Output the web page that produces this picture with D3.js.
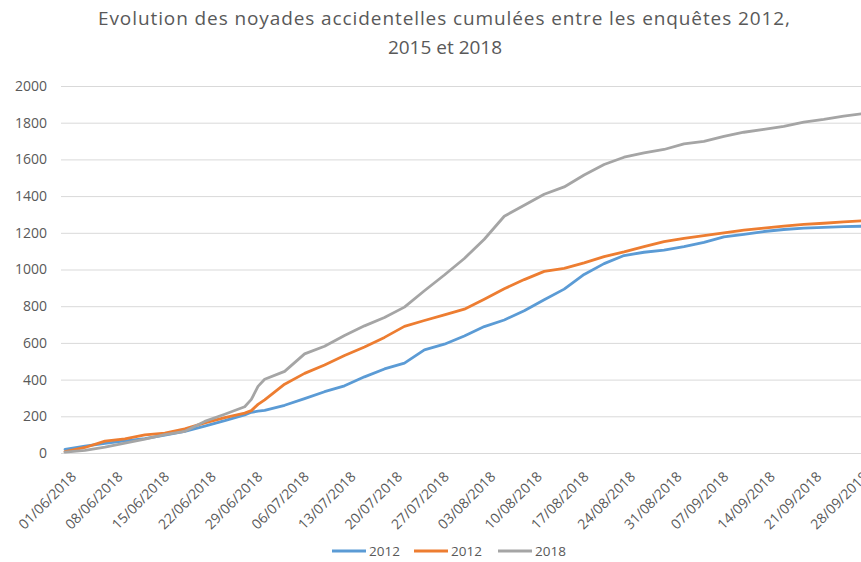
<!DOCTYPE html>
<html>
<head>
<meta charset="utf-8">
<script src="https://cdn.jsdelivr.net/npm/d3@7"></script>
<style>
  body { margin: 0; background: #fff; }
  text { font-family: "Open Sans", "Noto Sans", sans-serif; fill: #595959; }
  .grid line { stroke: #d9d9d9; stroke-width: 1; }
  .serie { fill: none; stroke-width: 2.8; stroke-linejoin: round; stroke-linecap: round; }
</style>
</head>
<body>
<div class="app"></div>
<script>
// Dates des points (tous les 3 jours environ)
var dates = ["01/06/2018","04/06/2018","07/06/2018","10/06/2018","13/06/2018","16/06/2018","19/06/2018",
  "22/06/2018","25/06/2018","28/06/2018","29/06/2018","30/06/2018","01/07/2018","04/07/2018","07/07/2018",
  "10/07/2018","13/07/2018","16/07/2018","19/07/2018","22/07/2018","25/07/2018","28/07/2018","31/07/2018",
  "03/08/2018","06/08/2018","09/08/2018","12/08/2018","15/08/2018","18/08/2018","21/08/2018","24/08/2018",
  "27/08/2018","30/08/2018","02/09/2018","05/09/2018","08/09/2018","11/09/2018","14/09/2018","17/09/2018",
  "20/09/2018","23/09/2018","26/09/2018","29/09/2018","30/09/2018"];

var blue2012 = [20,37,53,66,78,97,118,147,176,208,222,228,232,260,296,334,366,415,458,490,562,593,638,
  689,725,775,835,893,973,1032,1076,1094,1106,1125,1148,1178,1192,1207,1218,1226,1230,1234,1236,1237];

var orange2012 = [8,30,65,77,99,108,131,164,193,217,231,265,290,375,434,480,531,578,630,690,722,753,784,
  838,895,945,990,1006,1036,1070,1096,1125,1152,1170,1185,1200,1214,1225,1236,1246,1252,1259,1266,1268];

var gray2018 = [5,14,32,54,75,100,118,172,211,252,292,363,402,445,540,582,640,693,738,795,884,970,1060,
  1165,1290,1350,1410,1450,1515,1572,1612,1635,1654,1685,1698,1726,1748,1764,1780,1803,1818,1836,1850,1852];

var tickLabels = ["01/06/2018","08/06/2018","15/06/2018","22/06/2018","29/06/2018","06/07/2018",
  "13/07/2018","20/07/2018","27/07/2018","03/08/2018","10/08/2018","17/08/2018","24/08/2018",
  "31/08/2018","07/09/2018","14/09/2018","21/09/2018","28/09/2018"];

var yTicks = [0,200,400,600,800,1000,1200,1400,1600,1800,2000];

var series = [
  {name: "2012", values: blue2012, color: "#5B9BD5"},
  {name: "2012", values: orange2012, color: "#ED7D31"},
  {name: "2018", values: gray2018, color: "#A5A5A5"}
];

var width = 861, height = 562;
var parse = d3.timeParse("%d/%m/%Y");

var svg = d3.select(".app").append("svg")
    .attr("width", width)
    .attr("height", height);

var x = d3.scaleTime()
    .domain([parse("01/06/2018"), parse("28/09/2018")])
    .range([65, 857]);
var y = d3.scaleLinear().domain([0, 2000]).range([453, 86]);

// titre
var title = svg.append("text")
    .attr("text-anchor", "middle")
    .style("font-size", "19px");
title.append("tspan").attr("x", 444).attr("y", 25)
    .attr("textLength", 692)
    .attr("lengthAdjust", "spacing")
    .text("Evolution des noyades accidentelles cumulées entre les enquêtes 2012,");
title.append("tspan").attr("x", 445).attr("y", 54)
    .text("2015 et 2018");

// grille + axe Y
var yAxis = d3.axisLeft(y).tickValues(yTicks).tickSize(-(width - 61)).tickPadding(14)
    .tickFormat(d3.format("d"));
svg.append("g")
    .attr("class", "grid")
    .attr("transform", "translate(61,0)")
    .call(yAxis)
    .call(function(g){ g.select(".domain").remove(); })
    .selectAll("text")
    .style("font-size", "14px");

// axe X
var xAxis = d3.axisBottom(x)
    .tickValues(tickLabels.map(parse))
    .tickSize(0)
    .tickFormat(d3.timeFormat("%d/%m/%Y"));
var gx = svg.append("g")
    .attr("transform", "translate(0,453)")
    .call(xAxis);
gx.select(".domain").remove();
gx.selectAll("text")
    .style("font-size", "14px")
    .attr("text-anchor", "end")
    .attr("dy", "0.35em")
    .attr("transform", "translate(6,19) rotate(-45)");

// courbes
var line = d3.line()
    .x(function(d, i){ return x(parse(dates[i])); })
    .y(function(d){ return y(d); });

svg.selectAll(".serie")
    .data(series)
    .enter()
    .append("path")
    .attr("class", "serie")
    .attr("stroke", function(d){ return d.color; })
    .attr("d", function(d){ return line(d.values); });

// légende
var legX = [332, 414, 498];
var leg = svg.selectAll(".leg")
    .data(series)
    .enter()
    .append("g")
    .attr("class", "leg")
    .attr("transform", function(d, i){ return "translate(" + legX[i] + ",551)"; });
leg.append("line")
    .attr("x1", 0).attr("x2", 34)
    .attr("stroke", function(d){ return d.color; })
    .attr("stroke-width", 2.8);
leg.append("text")
    .attr("x", 37)
    .attr("dy", "0.35em")
    .style("font-size", "13.5px")
    .text(function(d){ return d.name; });
</script>
</body>
</html>
